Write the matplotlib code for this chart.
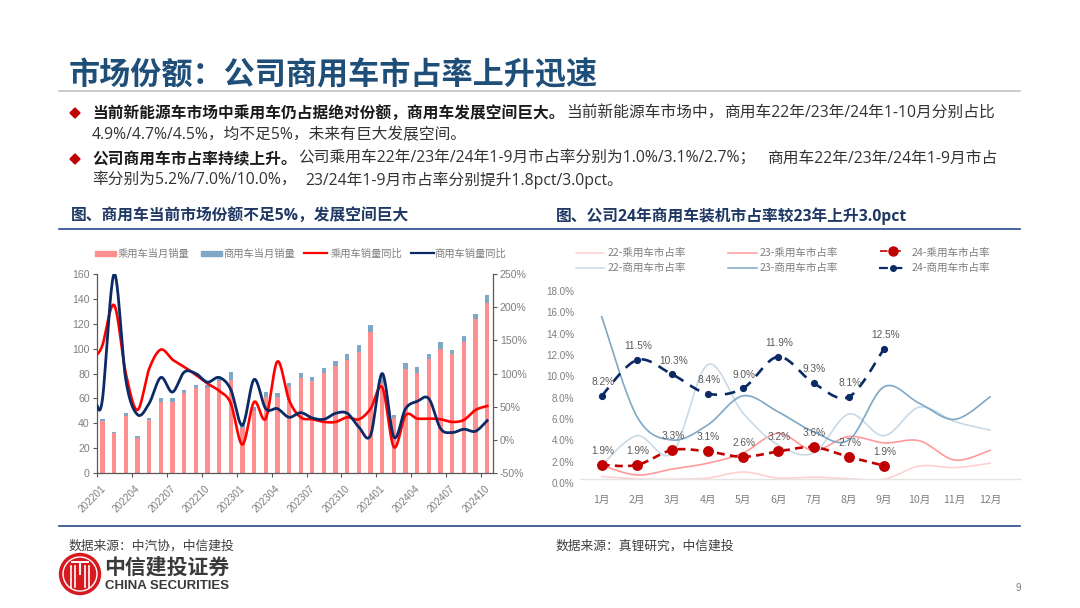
import numpy as np
import matplotlib
matplotlib.use('Agg')
import matplotlib.pyplot as plt
from matplotlib.patches import Rectangle, Circle, Polygon
from matplotlib.transforms import ScaledTranslation

plt.rcParams['font.family'] = ['Noto Sans CJK SC', 'DejaVu Sans']
NUM = ['Liberation Sans', 'Noto Sans CJK SC']
BODY = ['Open Sans', 'Noto Sans CJK SC']

# ---- left chart data
months = ['202201','202202','202203','202204','202205','202206','202207','202208','202209','202210','202211','202212',
          '202301','202302','202303','202304','202305','202306','202307','202308','202309','202310','202311','202312',
          '202401','202402','202403','202404','202405','202406','202407','202408','202409','202410']
passenger = [42,32,46,28,43,57,57,64,68,68,74,75,36,50,61,61,69,76,74,80.5,86,91,97.5,113,72,44,83.5,80.5,91.5,100,96,105,124,137]
commercial = [1.5,1,2.5,2,1.5,3,3,2.5,3,3,4,6,3,3,4,3,3,4.5,3.5,4,4,4.8,5.5,6,8,3,5.2,4.5,4.5,5,3,5,4,6]
# the lines start half a category before the first bar
passenger_yoy = [128,143,203,100,45,107,136,121,110,98,85,74,55,-7,57,32,118,60,34,31,27,27,34,31,47,79,-11,37,32,32,31,27,30,45,51]
commercial_yoy = [52,62,250,90,38,55,94,72,102,100,87,94,76,22,91,47,47,34,41,33,31,40,40,19,7,100,4,47,58,62,17,11,16,13,29]

# ---- right chart data
month_names = ['1月','2月','3月','4月','5月','6月','7月','8月','9月','10月','11月','12月']
p22 = [0.25,0.03,0.0,0.12,0.68,0.12,0.2,0.05,0.0,1.24,1.09,1.5]
p23 = [1.3,0.4,0.96,1.5,2.45,4.3,2.7,4.0,3.4,3.6,1.8,2.7]
c22 = [1.3,4.07,2.45,10.7,6.2,3.2,2.45,6.1,4.07,6.75,5.4,4.6]
c23 = [15.2,5.85,3.67,5.07,7.8,6.3,4.45,3.67,8.65,7.1,5.6,7.7]
p24 = [1.34,1.34,2.74,2.6,2.1,2.6,3.0,2.1,1.27]
c24 = [7.8,11.15,9.8,8.0,8.5,11.45,9.0,7.7,12.2]
p24_labels = ['1.9%','1.9%','3.3%','3.1%','2.6%','3.2%','3.6%','2.7%','1.9%']
c24_labels = ['8.2%','11.5%','10.3%','8.4%','9.0%','11.9%','9.3%','8.1%','12.5%']

PINK = '#ff8f8f'
STEEL = '#7fa8c6'
RED = '#ff0000'
NAVY = '#0b2a66'
DARKRED = '#c00000'
GREY = '#7f7f7f'
W, H = 1080, 608


def smooth(x, y, n=24):
    # catmull-rom through the read points, like the "smoothed line" option
    x = np.asarray(x, float)
    y = np.asarray(y, float)
    xs, ys = [], []
    for i in range(len(x) - 1):
        i0, i3 = max(i - 1, 0), min(i + 2, len(x) - 1)
        t = np.linspace(0, 1, n)
        for vals, out in ((x, xs), (y, ys)):
            p1, p2 = vals[i], vals[i + 1]
            c1 = p1 + (p2 - vals[i0]) / 6
            c2 = p2 - (vals[i3] - p1) / 6
            out.append((1-t)**3*p1 + 3*(1-t)**2*t*c1 + 3*(1-t)*t**2*c2 + t**3*p2)
    return np.concatenate(xs), np.concatenate(ys)


def ax_px(l, t, r, b):
    return fig.add_axes([l / W, 1 - b / H, (r - l) / W, (b - t) / H], facecolor='none')


def shift(label, dx, dy):
    label.set_transform(label.get_transform() + ScaledTranslation(dx / 100, dy / 100, fig.dpi_scale_trans))


fig = plt.figure(figsize=(10.8, 6.08), dpi=100)

# ---- page furniture, in pixel coordinates
bg = fig.add_axes([0, 0, 1, 1])
bg.set_xlim(0, W)
bg.set_ylim(H, 0)
bg.axis('off')


def txt(x, y, s, size, color='#333333', weight='normal', ha='left', family=None):
    kw = {'family': family} if family else {}
    bg.text(x, y, s, fontsize=size, color=color, weight=weight, ha=ha, va='center', **kw)


txt(69, 75, '市场份额：公司商用车市占率上升迅速', 22.4, '#1f4e79', 'bold')
bg.plot([59, 1020], [91, 91], color='#bfbfbf', lw=1.1)

for yy in (113, 159):
    bg.add_patch(Polygon([(75, yy-5), (80, yy), (75, yy+5), (70, yy)], color='#c00000'))

TS = 11.3
txt(92, 113, '当前新能源车市场中乘用车仍占据绝对份额，商用车发展空间巨大。', TS, '#1a1a1a', 'bold')
txt(566, 113, '当前新能源车市场中，', TS, family=BODY)
txt(724, 113, '商用车22年/23年/24年1-10月分别占比', TS, family=BODY)
txt(92, 135, '4.9%/4.7%/4.5%，均不足5%，未来有巨大发展空间。', TS, family=BODY)
txt(92, 159, '公司商用车市占率持续上升。', TS, '#1a1a1a', 'bold')
txt(298, 159, '公司乘用车22年/23年/24年1-9月市占率分别为1.0%/3.1%/2.7%；', TS, family=BODY)
txt(767, 159, '商用车22年/23年/24年1-9月市占', TS, family=BODY)
txt(92, 180, '率分别为5.2%/7.0%/10.0%，', TS, family=BODY)
txt(305, 180, '23/24年1-9月市占率分别提升1.8pct/3.0pct。', TS, family=BODY)

txt(71, 216, '图、商用车当前市场份额不足5%，发展空间巨大', 11.3, '#1f3864', 'bold', family=BODY)
txt(556, 216, '图、公司24年商用车装机市占率较23年上升3.0pct', 11.3, '#1f3864', 'bold', family=BODY)
bg.plot([59, 1020], [229, 229], color='#264a8a', lw=1.2)
bg.plot([59, 1020], [526, 526], color='#264a8a', lw=1.2)

txt(69, 546, '数据来源：中汽协，中信建投', 9.2, '#404040')
txt(556, 546, '数据来源：真锂研究，中信建投', 9.2, '#404040')

# logo
bg.add_patch(Circle((80, 574), 20.5, color='#d7191f'))
bg.add_patch(Circle((80, 574), 17, fill=False, ec='white', lw=1.0))
for dx in (-9, -5, 5, 9):
    bg.plot([80+dx, 80+dx], [566, 587], color='white', lw=1.2)
bg.plot([72, 88], [562, 562], color='white', lw=1.4)
bg.plot([80, 80], [562, 574], color='white', lw=1.4)
txt(104, 567, '中信建投证券', 15, '#3a3a3a', 'bold')
txt(105, 586, 'CHINA SECURITIES', 9.5, '#3a3a3a', 'bold', family=NUM)
txt(1015, 588, '9', 7, GREY, family=NUM)

# ---- legend left
LS = 7.4
bg.add_patch(Rectangle((94.5, 251), 21.5, 4.5, color=PINK))
txt(118, 253.5, '乘用车当月销量', LS, GREY)
bg.add_patch(Rectangle((200.5, 251), 21.5, 4.5, color=STEEL))
txt(223, 253.5, '商用车当月销量', LS, GREY)
bg.plot([304, 327], [253, 253], color=RED, lw=1.6)
txt(330.5, 253.5, '乘用车销量同比', LS, GREY)
bg.plot([411, 434], [253, 253], color=NAVY, lw=1.6)
txt(434, 253.5, '商用车销量同比', LS, GREY)

# ---- legend right
legend_items = [(576, 604, 608, 252.5, '22-乘用车市占率', '#ffd0d0'),
                (576, 604, 608, 268, '22-商用车市占率', '#c8dae8'),
                (728, 757, 760, 252.5, '23-乘用车市占率', '#ff9a9a'),
                (728, 757, 760, 268, '23-商用车市占率', STEEL)]
for x0, x1, xt, yy, s, c in legend_items:
    bg.plot([x0, x1], [yy, yy], color=c, lw=1.1)
    txt(xt, yy, s, 7.6, GREY)
bg.plot([880, 905], [251, 251], color=DARKRED, lw=1.2, ls=(0, (4.5, 3.5)))
bg.plot([892.5], [251], 'o', color=DARKRED, ms=6.5)
txt(911.5, 252.5, '24-乘用车市占率', 7.6, GREY)
bg.plot([879, 905], [268, 268], color=NAVY, lw=1.6, ls=(0, (4, 2.5)))
bg.plot([893], [268], 'o', color=NAVY, ms=4.0)
txt(911.5, 268, '24-商用车市占率', 7.6, GREY)

# ---- left chart
ax = ax_px(96.7, 274, 493, 473)
pos = np.arange(len(months))
ax.bar(pos, passenger, width=0.37, color=PINK, zorder=2)
ax.bar(pos, commercial, width=0.37, bottom=passenger, color=STEEL, zorder=2)
ax.set_xlim(-0.5, 33.5)
ax.set_ylim(0, 160)
ax.set_yticks(range(0, 161, 20))
ax.set_xticks(pos[::3] - 0.5)
ax.set_xticklabels(months[::3], rotation=45, ha='right', va='center', rotation_mode='anchor')
ax.tick_params(axis='x', length=3, width=0.8, color='#595959', labelcolor=GREY, labelsize=7.2, pad=2, labelfontfamily=NUM[0])
ax.tick_params(axis='y', length=3, width=0.8, color='#595959', labelcolor=GREY, labelsize=7.6, pad=2, labelfontfamily=NUM[0])
for t in ax.get_xticklabels():
    shift(t, 7, -7)
for s in ('top', 'right'):
    ax.spines[s].set_visible(False)
for s in ('left', 'bottom'):
    ax.spines[s].set_color('#595959')
    ax.spines[s].set_linewidth(0.9)

ax2 = ax.twinx()
ax2.set_facecolor('none')
ax2.set_ylim(-50, 250)
ax2.set_yticks(range(-50, 251, 50))
ax2.set_yticklabels([f'{v}%' for v in range(-50, 251, 50)])
ax2.tick_params(axis='y', length=3, width=0.8, color='#595959', labelcolor=GREY, labelsize=7.6, pad=2, labelfontfamily=NUM[0])
for s in ('top', 'left', 'bottom'):
    ax2.spines[s].set_visible(False)
ax2.spines['right'].set_color('#595959')
ax2.spines['right'].set_linewidth(0.9)
line_x = np.r_[-0.5, pos]
ax2.plot(*smooth(line_x, passenger_yoy), color=RED, lw=1.9, zorder=3)
ax2.plot(*smooth(line_x, commercial_yoy), color=NAVY, lw=2.0, zorder=4)

# ---- right chart
rx = ax_px(580, 280, 1020, 479.3)
mpos = np.arange(12)
for vals, c in ((p22, '#ffd0d0'), (p23, '#ff9a9a'), (c22, '#c8dae8'), (c23, STEEL)):
    rx.plot(*smooth(mpos, vals), color=c, lw=1.2, zorder=2)
px_ = np.arange(9)
sx, sy = smooth(px_, c24)
rx.plot(sx, sy, color=NAVY, lw=1.9, ls=(0, (4, 3)), zorder=4)
rx.plot(px_, c24, 'o', color=NAVY, ms=4.2, zorder=5)
sx, sy = smooth(px_, p24)
rx.plot(sx, sy, color=DARKRED, lw=1.9, ls=(0, (3, 2)), zorder=4)
rx.plot(px_, p24, 'o', color=DARKRED, ms=6.8, zorder=5)
for i in px_:
    rx.annotate(c24_labels[i], (i, c24[i]), xytext=(1, 13.5), textcoords='offset pixels', ha='center', va='center',
                fontsize=7.3, color='#595959', family=NUM, zorder=6)
    rx.annotate(p24_labels[i], (i, p24[i]), xytext=(1, 14), textcoords='offset pixels', ha='center', va='center',
                fontsize=7.3, color='#595959', family=NUM, zorder=6)
rx.set_xlim((580 - 601.7) / 35.3, (1020 - 601.7) / 35.3)
rx.set_ylim(0, 199.3 / 10.7)
rx.set_xticks(mpos)
rx.set_xticklabels(month_names)
rx.set_yticks(range(0, 19, 2))
rx.set_yticklabels([f'{v:.1f}%' for v in range(0, 19, 2)])
rx.tick_params(axis='x', length=0, labelcolor=GREY, labelsize=7.6, pad=11)
rx.tick_params(axis='y', length=0, labelcolor=GREY, labelsize=7.1, pad=4, labelfontfamily=NUM[0])
for t in rx.get_yticklabels():
    shift(t, 0, -4)
for s in ('top', 'right', 'left'):
    rx.spines[s].set_visible(False)
rx.spines['bottom'].set_color('#e4e4e4')
rx.spines['bottom'].set_linewidth(1.0)

fig.savefig('out.png', dpi=100)
